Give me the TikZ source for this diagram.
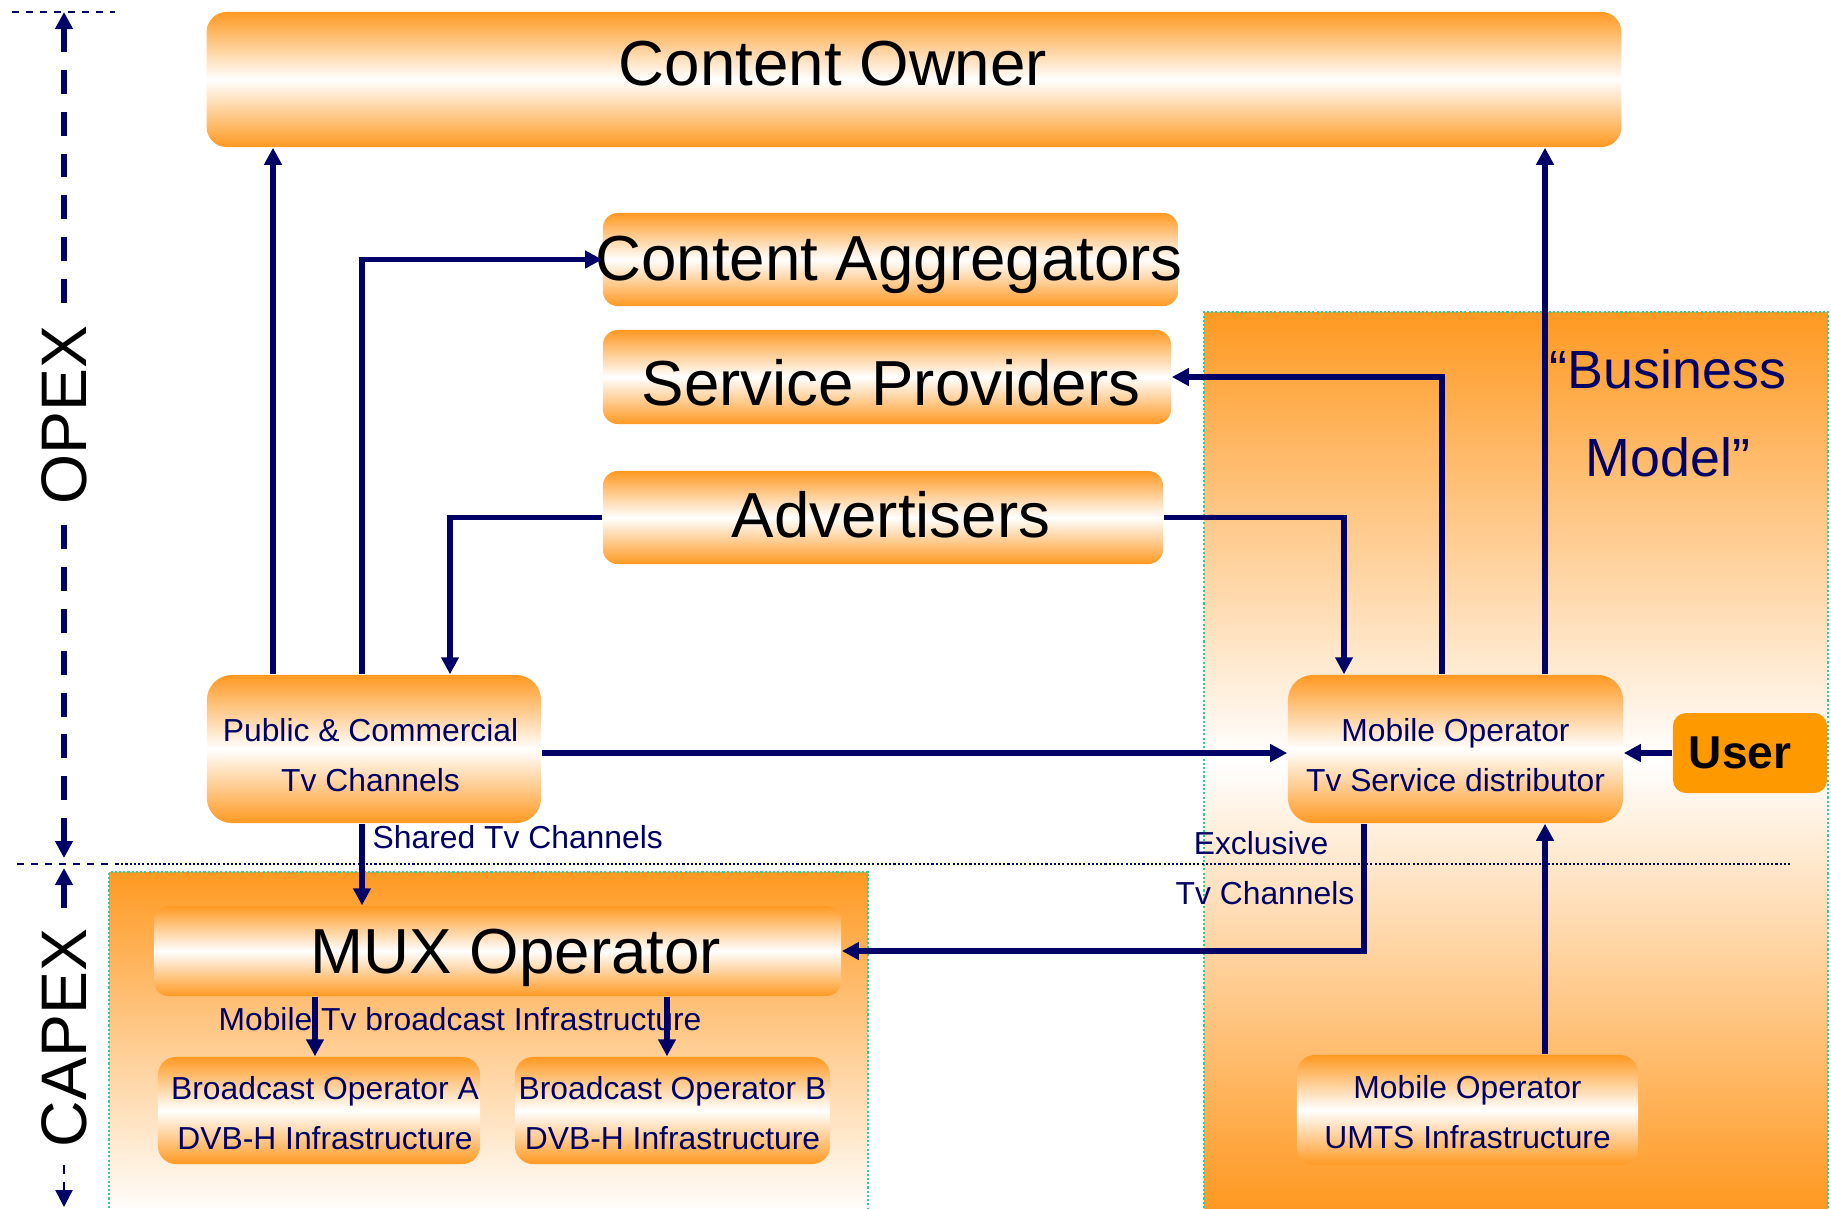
\documentclass[tikz,border=0pt]{standalone}
\usepackage{fontspec}
\setmainfont{Liberation Sans}
\usetikzlibrary{arrows.meta}
\definecolor{boxor}{HTML}{FF9922}
\definecolor{useror}{HTML}{FF9900}
\definecolor{navy}{HTML}{000066}
\definecolor{bordergreen}{HTML}{33CC99}
\tikzset{
  conn/.style={draw=navy, line width=1.5pt, -{Triangle[length=0.17cm,width=0.17cm]}},
  gbox/.style={rounded corners=#1, top color=boxor, bottom color=boxor, middle color=white, draw=none, inner sep=0pt},
  gbox/.default=0.2cm,
  bigtxt/.style={font=\fontsize{18.1}{21.7}\selectfont, text=black, inner sep=0pt},
  smalltxt/.style={font=\fontsize{9.05}{14.2}\selectfont, text=navy, align=center, inner sep=0pt},
  scaleline/.style={draw=navy, line width=1.7pt, dash pattern=on 6.8pt off 5.1pt},
  thinscale/.style={draw=navy, line width=0.7pt, dash pattern=on 2.4pt off 2.4pt},
  guide/.style={draw=navy, line width=0.8pt, dash pattern=on 2pt off 2pt},
  dotguide/.style={draw=navy, line width=0.7pt, dash pattern=on 0.6pt off 0.6pt},
  regionborder/.style={draw=bordergreen, line width=0.7pt, dash pattern=on 0.6pt off 0.6pt},
  sidetxt/.style={font=\fontsize{18.3}{22}\selectfont, text=black, rotate=90},
}
\begin{document}
\begin{tikzpicture}[x=0.01cm,y=-0.01cm]
\useasboundingbox (0,0) rectangle (1831,1208);
\fill[white] (0,0) rectangle (1831,1208);

% background regions
\fill[top color=boxor, bottom color=boxor!2!white] (109,872) rectangle (868,1208);
\draw[regionborder] (109,1208) -- (109,872) -- (868,872) -- (868,1208);
\fill[top color=boxor, bottom color=boxor, middle color=white] (1204,312) rectangle (1828,1208);
\draw[regionborder] (1204,1208) -- (1204,312) -- (1828,312) -- (1828,1208);

% scale guides
\coordinate (gTopL) at (12,12);
\coordinate (gTopR) at (115,12);
\coordinate (gMidL) at (17,864);
\coordinate (gMidM) at (117,864);
\coordinate (gMidR) at (1790,864);
\draw[guide] (gTopL) -- (gTopR);
\draw[guide] (gMidL) -- (gMidM);
\draw[dotguide] (gMidM) -- (gMidR);

\node[sidetxt] (opex) at (64,415) {OPEX};
\node[sidetxt] (capex) at (64,1038) {CAPEX};
\coordinate (oTop) at (64,12);
\coordinate (oBot) at (64,858);
\coordinate (cTop) at (64,868);
\coordinate (cBot) at (64,1207);
\draw[scaleline, {Triangle[length=0.17cm,width=0.17cm]}-] (oTop) -- (opex.east);
\draw[scaleline, {Triangle[length=0.17cm,width=0.17cm]}-] (oBot) -- (opex.west);
\draw[scaleline, {Triangle[length=0.17cm,width=0.17cm]}-] (cTop) -- (capex.east);
\draw[thinscale, {Triangle[length=0.17cm,width=0.17cm]}-] (cBot) -- (capex.west);

% boxes
\node[gbox=0.2cm, minimum width=14.14cm, minimum height=1.35cm] (owner) at (914,79.5) {};
\node[gbox=0.15cm, minimum width=5.75cm, minimum height=0.93cm] (agg) at (890.5,259.5) {};
\node[gbox=0.15cm, minimum width=5.68cm, minimum height=0.94cm] (sp) at (887,377) {};
\node[gbox=0.15cm, minimum width=5.60cm, minimum height=0.93cm] (adv) at (883,517.5) {};
\node[gbox=0.25cm, minimum width=3.34cm, minimum height=1.48cm] (pub) at (374,749) {};
\node[gbox=0.25cm, minimum width=3.35cm, minimum height=1.48cm] (mob) at (1455.5,749) {};
\node[fill=useror, rounded corners=0.13cm, minimum width=1.54cm, minimum height=0.8cm, inner sep=0pt] (user) at (1750,753) {};
\node[gbox=0.15cm, minimum width=6.87cm, minimum height=0.90cm] (mux) at (497.5,951) {};
\node[gbox=0.18cm, minimum width=3.22cm, minimum height=1.07cm] (bA) at (319,1110.5) {};
\node[gbox=0.18cm, minimum width=3.15cm, minimum height=1.07cm] (bB) at (672.5,1110.5) {};
\node[gbox=0.18cm, minimum width=3.41cm, minimum height=1.10cm] (umts) at (1467.5,1110) {};

% box texts
\node[bigtxt] (ownerT) at (833,64) {Content Owner};
\node[bigtxt] (aggT) at (889,264.5) {Content Aggregators};
\node[bigtxt] (spT) at (891,383) {Service Providers};
\node[bigtxt] (advT) at (891,515) {Advertisers};
\node[bigtxt] (muxT) at (516,958) {MUX Operator};
\node[smalltxt] (pubT) at (370.5,755) {Public \& Commercial\\Tv Channels};
\node[smalltxt] (mobT) at (1455.5,755) {Mobile Operator\\Tv Service distributor};
\node[font=\fontsize{13.1}{15}\selectfont\bfseries, text=black, inner sep=0pt] (userT) at (1740,753) {User};
\node[smalltxt] (bAT) at (325,1113) {Broadcast Operator A\\DVB-H Infrastructure};
\node[smalltxt] (bBT) at (672.5,1113) {Broadcast Operator B\\DVB-H Infrastructure};
\node[smalltxt] (umtsT) at (1467.5,1112) {Mobile Operator\\UMTS Infrastructure};

% labels
\node[smalltxt, anchor=west] (shared) at (372,837) {Shared Tv Channels};
\node[smalltxt] (excl) at (1261,843) {Exclusive};
\node[smalltxt] (exclb) at (1265,893) {Tv Channels};
\node[smalltxt] (infra) at (460,1019) {Mobile Tv broadcast Infrastructure};
\node[font=\fontsize{15.3}{24.9}\selectfont, text=navy, align=center] (bm) at (1668,413) {“Business\\Model”};

% connector x positions
\coordinate (x273) at (273,0);
\coordinate (x362) at (362,0);
\coordinate (x450) at (450,0);
\coordinate (x1344) at (1344,0);
\coordinate (x1442) at (1442,0);
\coordinate (x1545) at (1545,0);
\coordinate (x1364) at (1364,0);
\coordinate (x315) at (315,0);
\coordinate (x667) at (667,0);

% connectors
\draw[conn] (pub.north -| x273) -- (owner.south -| x273);
\draw[conn] (pub.north -| x362) |- (agg.west);
\draw[conn] (adv.west) -| (pub.north -| x450);
\draw[conn] (adv.east) -| (mob.north -| x1344);
\draw[conn] (mob.north -| x1442) |- (sp.east);
\draw[conn] (mob.north -| x1545) -- (owner.south -| x1545);
\draw[conn] (pub.east |- user.west) -- (mob.west |- user.west);
\draw[conn] (user.west) -- (mob.east |- user.west);
\draw[conn] (mob.south -| x1364) |- (mux.east);
\draw[conn] (umts.north -| x1545) -- (mob.south -| x1545);
\draw[conn] (pub.south -| x362) -- (mux.north -| x362);
\draw[conn] (mux.south -| x315) -- (bA.north -| x315);
\draw[conn] (mux.south -| x667) -- (bB.north -| x667);
\end{tikzpicture}
\end{document}
